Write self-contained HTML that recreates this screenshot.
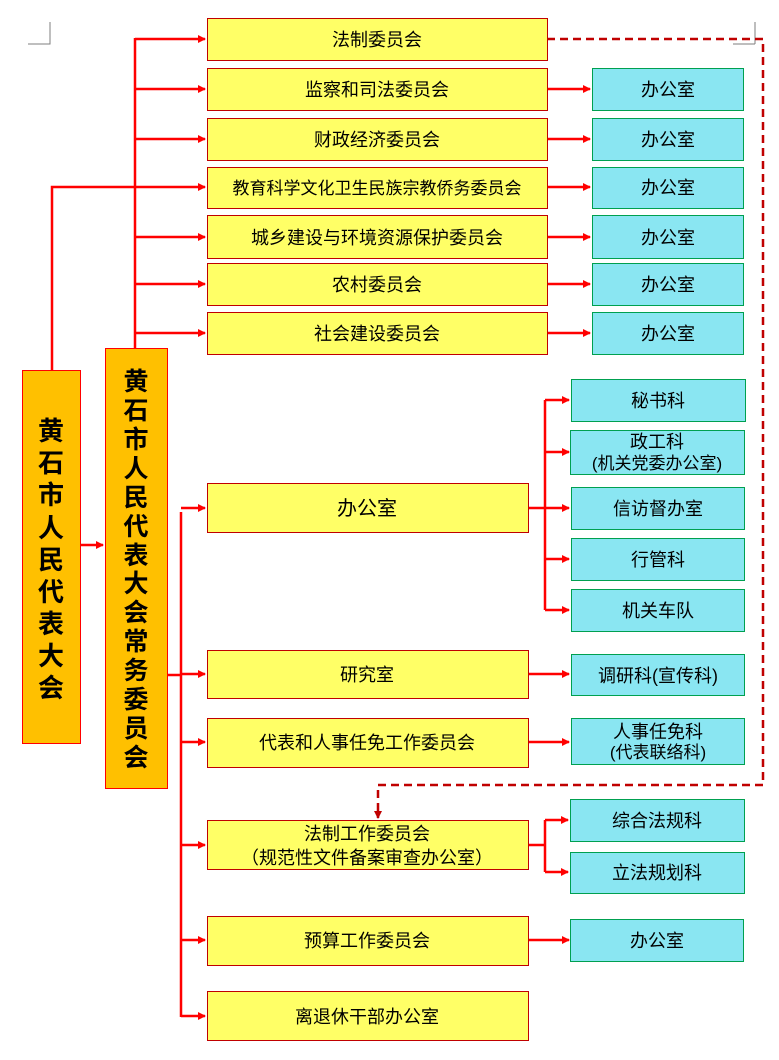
<!DOCTYPE html>
<html><head><meta charset="utf-8"><style>
html,body{margin:0;padding:0;background:#fff;}
svg text{font-family:"Liberation Sans","Noto Sans CJK SC",sans-serif;fill:#000;}
</style></head><body>
<svg width="779" height="1055" viewBox="0 0 779 1055" xmlns="http://www.w3.org/2000/svg">
<defs>
<marker id="a" markerWidth="8" markerHeight="8" refX="7" refY="4" orient="auto" markerUnits="userSpaceOnUse"><path d="M0,0 L8,4 L0,8 Z" fill="#ff0000"/></marker>
<marker id="d" markerWidth="8" markerHeight="8" refX="7" refY="4" orient="auto" markerUnits="userSpaceOnUse"><path d="M0,0 L8,4 L0,8 Z" fill="#c00000"/></marker>
</defs>
<g stroke="#000" stroke-width="1" fill="none" opacity="0.5">
<path d="M28,44 H50 V22"/><path d="M733,44 H755"/><path d="M755,22 V44"/>
</g>
<g stroke="#ff0000" stroke-width="2.5" fill="none">
<path d="M52,370 V187 H205" marker-end="url(#a)"/>
<path d="M135,348 V38"/>
<path d="M135,39 H205" marker-end="url(#a)"/>
<path d="M135,89 H205" marker-end="url(#a)"/>
<path d="M135,139 H205" marker-end="url(#a)"/>
<path d="M135,237 H205" marker-end="url(#a)"/>
<path d="M135,284 H205" marker-end="url(#a)"/>
<path d="M135,333 H205" marker-end="url(#a)"/>
<path d="M547,89 H590" marker-end="url(#a)"/>
<path d="M547,139 H590" marker-end="url(#a)"/>
<path d="M547,187 H590" marker-end="url(#a)"/>
<path d="M547,237 H590" marker-end="url(#a)"/>
<path d="M547,284 H590" marker-end="url(#a)"/>
<path d="M547,333 H590" marker-end="url(#a)"/>
<path d="M80,545 H103" marker-end="url(#a)"/>
<path d="M167,675 H181"/>
<path d="M181,512 V1017"/>
<path d="M181,508 H205" marker-end="url(#a)"/>
<path d="M181,674 H205" marker-end="url(#a)"/>
<path d="M181,742 H205" marker-end="url(#a)"/>
<path d="M181,845 H205" marker-end="url(#a)"/>
<path d="M181,940 H205" marker-end="url(#a)"/>
<path d="M181,1016 H205" marker-end="url(#a)"/>
<path d="M528,508 H545"/>
<path d="M545,400 V610"/>
<path d="M545,400 H569" marker-end="url(#a)"/>
<path d="M545,452 H569" marker-end="url(#a)"/>
<path d="M545,508 H569" marker-end="url(#a)"/>
<path d="M545,559 H569" marker-end="url(#a)"/>
<path d="M545,610 H569" marker-end="url(#a)"/>
<path d="M528,674 H569" marker-end="url(#a)"/>
<path d="M528,742 H569" marker-end="url(#a)"/>
<path d="M528,845 H545 M545,820 V872"/>
<path d="M545,820 H568" marker-end="url(#a)"/>
<path d="M545,872 H568" marker-end="url(#a)"/>
<path d="M528,940 H569" marker-end="url(#a)"/>
</g>
<path d="M547,39 H763 V785 H378 V818" stroke="#c00000" stroke-width="2.5" fill="none" stroke-dasharray="8,5" marker-end="url(#d)"/>
<g fill="#ffc000" stroke="#ff0000" stroke-width="1">
<rect x="22.5" y="370.5" width="58" height="373"/>
<rect x="105.5" y="348.5" width="62" height="440"/>
</g>
<g font-size="26" font-weight="bold" text-anchor="middle">
<text x="51" y="440">黄</text><text x="51" y="472">石</text><text x="51" y="504">市</text><text x="51" y="537">人</text><text x="51" y="569">民</text><text x="51" y="601">代</text><text x="51" y="633">表</text><text x="51" y="665">大</text><text x="51" y="697">会</text>
</g>
<g font-size="25" font-weight="bold" text-anchor="middle">
<text x="136" y="390">黄</text><text x="136" y="419">石</text><text x="136" y="448">市</text><text x="136" y="477">人</text><text x="136" y="506">民</text><text x="136" y="535">代</text><text x="136" y="564">表</text><text x="136" y="592">大</text><text x="136" y="621">会</text><text x="136" y="650">常</text><text x="136" y="679">务</text><text x="136" y="708">委</text><text x="136" y="737">员</text><text x="136" y="766">会</text>
</g>
<g fill="#ffff66" stroke="#c00000" stroke-width="1">
<rect x="207.5" y="18.5" width="340" height="42"/>
<rect x="207.5" y="68.5" width="340" height="42"/>
<rect x="207.5" y="118.5" width="340" height="42"/>
<rect x="207.5" y="167.5" width="340" height="41"/>
<rect x="207.5" y="215.5" width="340" height="43"/>
<rect x="207.5" y="263.5" width="340" height="42"/>
<rect x="207.5" y="312.5" width="340" height="42"/>
<rect x="207.5" y="483.5" width="321" height="49"/>
<rect x="207.5" y="650.5" width="321" height="48"/>
<rect x="207.5" y="718.5" width="321" height="49"/>
<rect x="207.5" y="820.5" width="321" height="49"/>
<rect x="207.5" y="916.5" width="321" height="49"/>
<rect x="207.5" y="991.5" width="321" height="49"/>
</g>
<g fill="#8ae6f2" stroke="#00a050" stroke-width="1">
<rect x="592.5" y="68.5" width="151" height="42"/>
<rect x="592.5" y="118.5" width="151" height="42"/>
<rect x="592.5" y="167.5" width="151" height="41"/>
<rect x="592.5" y="215.5" width="151" height="43"/>
<rect x="592.5" y="263.5" width="151" height="42"/>
<rect x="592.5" y="312.5" width="151" height="42"/>
<rect x="571.5" y="379.5" width="174" height="42"/>
<rect x="570.5" y="430.5" width="174" height="44"/>
<rect x="571.5" y="487.5" width="173" height="42"/>
<rect x="571.5" y="538.5" width="173" height="42"/>
<rect x="571.5" y="589.5" width="173" height="42"/>
<rect x="571.5" y="654.5" width="173" height="41"/>
<rect x="571.5" y="718.5" width="173" height="46"/>
<rect x="570.5" y="799.5" width="174" height="42"/>
<rect x="570.5" y="852.5" width="174" height="41"/>
<rect x="570.5" y="919.5" width="173" height="42"/>
</g>
<g font-size="18" text-anchor="middle">
<text x="377" y="46">法制委员会</text>
<text x="377" y="96">监察和司法委员会</text>
<text x="377" y="146">财政经济委员会</text>
<text x="377" y="194" font-size="17">教育科学文化卫生民族宗教侨务委员会</text>
<text x="377" y="244">城乡建设与环境资源保护委员会</text>
<text x="377" y="291">农村委员会</text>
<text x="377" y="340">社会建设委员会</text>
<text x="668" y="96">办公室</text><text x="668" y="146">办公室</text><text x="668" y="194">办公室</text><text x="668" y="244">办公室</text><text x="668" y="291">办公室</text><text x="668" y="340">办公室</text>
<text x="367" y="515" font-size="20">办公室</text>
<text x="367" y="681">研究室</text>
<text x="367" y="749">代表和人事任免工作委员会</text>
<text x="367" y="840">法制工作委员会</text>
<text x="367" y="864">（规范性文件备案审查办公室）</text>
<text x="367" y="947">预算工作委员会</text>
<text x="367" y="1023">离退休干部办公室</text>
<text x="658" y="407">秘书科</text>
<text x="657" y="448">政工科</text>
<text x="657" y="469" font-size="17">(机关党委办公室)</text>
<text x="658" y="515">信访督办室</text>
<text x="658" y="566">行管科</text>
<text x="658" y="617">机关车队</text>
<text x="658" y="682">调研科(宣传科)</text>
<text x="658" y="738">人事任免科</text>
<text x="658" y="758" font-size="17">(代表联络科)</text>
<text x="657" y="827">综合法规科</text>
<text x="657" y="879">立法规划科</text>
<text x="657" y="947">办公室</text>
</g>
</svg>
</body></html>
